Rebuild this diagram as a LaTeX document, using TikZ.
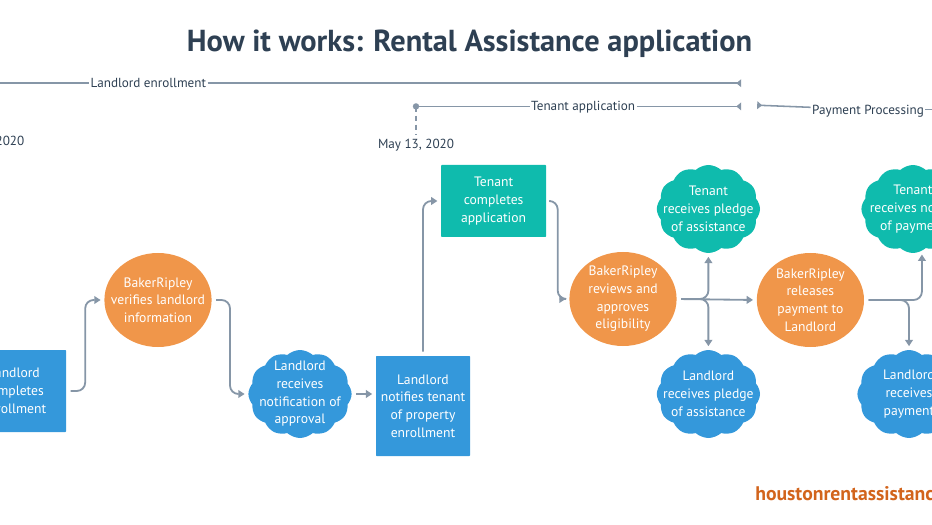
\documentclass[tikz,border=0pt]{standalone}
\usepackage{fontspec}
\setmainfont{PT Sans}
\usetikzlibrary{calc,arrows.meta,shapes.geometric,shapes.symbols}
\definecolor{boxblue}{HTML}{3498DB}
\definecolor{boxteal}{HTML}{0FBBAD}
\definecolor{boxorange}{HTML}{F0964A}
\definecolor{siteorange}{HTML}{D2641C}
\definecolor{linegray}{HTML}{8696A7}
\definecolor{inkdark}{HTML}{2E4053}
\tikzset{
	steptext/.style={text=white, align=center, yshift=0pt, font=\fontsize{9.7}{12.6}\selectfont},
	stepbox/.style={fill=boxblue, rounded corners=0.5pt, inner sep=0pt},
	stepcircle/.style={ellipse, fill=boxorange, inner sep=0pt, minimum width=2.68cm, minimum height=2.35cm},
	stepcloud/.style={cloud, cloud puffs=12, cloud puff arc=85, cloud ignores aspect, fill=boxblue, inner sep=0pt, minimum width=2.58cm, minimum height=2.2cm},
	flowline/.style={draw=linegray, line width=1.3pt, rounded corners=6pt, shorten <=3pt, shorten >=2.5pt, -{Triangle[length=4.5pt,width=5.5pt]}},
	spanline/.style={draw=linegray, line width=1.1pt},
	spantext/.style={text=inkdark, text height=7pt, text depth=0.5pt, font=\fontsize{9.35}{12}\selectfont, inner sep=1pt}
}

\begin{document}
\begin{tikzpicture}
	%%%%% START %%%%%
	\useasboundingbox (0, 0) rectangle (23.3, 13.1);
	\clip (0, 0) rectangle (23.3, 13.1);
	
	\node[text=inkdark, font=\fontsize{21.6}{24}\selectfont\bfseries] (title) at (11.74, 12.0) {How it works: Rental Assistance application};
	
	% time spans along the top
	\coordinate (landlordstart) at (0, 11.02);
	\coordinate (landlordend) at (18.53, 11.02);
	\node[spantext, fill=white] (landlordspan) at (3.71, 11.02) {Landlord enrollment};
	\draw[spanline] (landlordstart) -- (landlordspan);
	\draw[spanline, -{Triangle[reversed,length=3.5pt,width=5.5pt]}] (landlordspan) -- (landlordend);
	
	\coordinate (tenantstart) at (10.4, 10.44);
	\coordinate (tenantend) at (18.53, 10.44);
	\node[spantext, fill=white] (tenantspan) at (14.58, 10.44) {Tenant application};
	\node[spantext] (tenantdate) at (10.4, 9.5) {May 13, 2020};
	\node[spantext, anchor=east] (landlorddate) at (0.65, 9.58) {2020};
	\fill[linegray] (tenantstart) circle (0.08);
	\draw[spanline] (tenantstart) -- (tenantspan);
	\draw[spanline, -{Triangle[reversed,length=3.5pt,width=5.5pt]}] (tenantspan) -- (tenantend);
	\draw[spanline, dash pattern=on 4pt off 2.5pt, shorten >=2pt] (tenantstart) -- (tenantdate);
	
	\coordinate (paymentstart) at (18.93, 10.47);
	\coordinate (paymentend) at (23.3, 10.36);
	\node[spantext, fill=white] (paymentspan) at (21.7, 10.36) {Payment Processing};
	\draw[spanline, {Triangle[reversed,length=3.5pt,width=5.5pt]}-] (paymentstart) -- (paymentspan);
	\draw[spanline] (paymentspan) -- (paymentend);
	
	% landlord steps
	\node[stepbox, minimum width=2.6cm, minimum height=2.05cm, label={[steptext]center:{Landlord\\completes\\enrollment}}] (enrol) at (0.35, 3.325) {};
	\node[stepcircle, label={[steptext]center:{BakerRipley\\verifies landlord\\information}}] (verify) at (3.95, 5.6) {};
	\node[stepcloud, label={[steptext]center:{Landlord\\receives\\notification of\\approval}}] (approval) at (7.5, 3.25) {};
	\node[stepbox, minimum width=2.35cm, minimum height=2.5cm, label={[steptext]center:{Landlord\\notifies tenant\\of property\\enrollment}}] (notify) at (10.575, 2.95) {};
	
	% tenant steps
	\node[stepbox, fill=boxteal, minimum width=2.62cm, minimum height=1.8cm, label={[steptext]center:{Tenant\\completes\\application}}] (apply) at (12.34, 8.075) {};
	\node[stepcircle, label={[steptext]center:{BakerRipley\\reviews and\\approves\\eligibility}}] (review) at (15.575, 5.625) {};
	\node[stepcloud, fill=boxteal, label={[steptext]center:{Tenant\\receives pledge\\of assistance}}] (tenantpledge) at (17.71, 7.875) {};
	\node[stepcloud, label={[steptext]center:{Landlord\\receives pledge\\of assistance}}] (landlordpledge) at (17.71, 3.25) {};
	
	% payment steps
	\node[stepcircle, label={[steptext]center:{BakerRipley\\releases\\payment to\\Landlord}}] (release) at (20.26, 5.6) {};
	\node[stepcloud, fill=boxteal, label={[steptext]center:{Tenant\\receives notice\\of payment}}] (tenantpaid) at (22.825, 7.875) {};
	\node[stepcloud, label={[steptext]center:{Landlord\\receives\\payment}}] (landlordpaid) at (22.725, 3.25) {};
	
	\draw[flowline] (enrol.east) -| ($(enrol.east)!0.5!(verify.west)$) |- (verify.west);
	\draw[flowline] (verify.east) -| ($(verify.east)!0.5!(approval.west)$) |- (approval.west);
	\draw[flowline] (approval.east) -- (approval.east -| notify.west);
	\draw[flowline] (notify.north) |- (apply.west);
	\draw[flowline] (apply.east) -| ($(apply.east)!0.5!(review.west)$) |- (review.west);
	\draw[flowline] (review.east) -- (release.west);
	\draw[flowline] (review.east) -| (tenantpledge.south);
	\draw[flowline] (review.east) -| (landlordpledge.north);
	\draw[flowline] (release.east) -| (tenantpaid.-78);
	\draw[flowline] (release.east) -| (landlordpaid.north);
	
	\node[text=siteorange, anchor=west, inner sep=0pt, font=\fontsize{14}{16}\selectfont\bfseries] (website) at (18.875, 0.72) {houstonrentassistance.org};
	%%%%% END %%%%%
\end{tikzpicture}
\end{document}
